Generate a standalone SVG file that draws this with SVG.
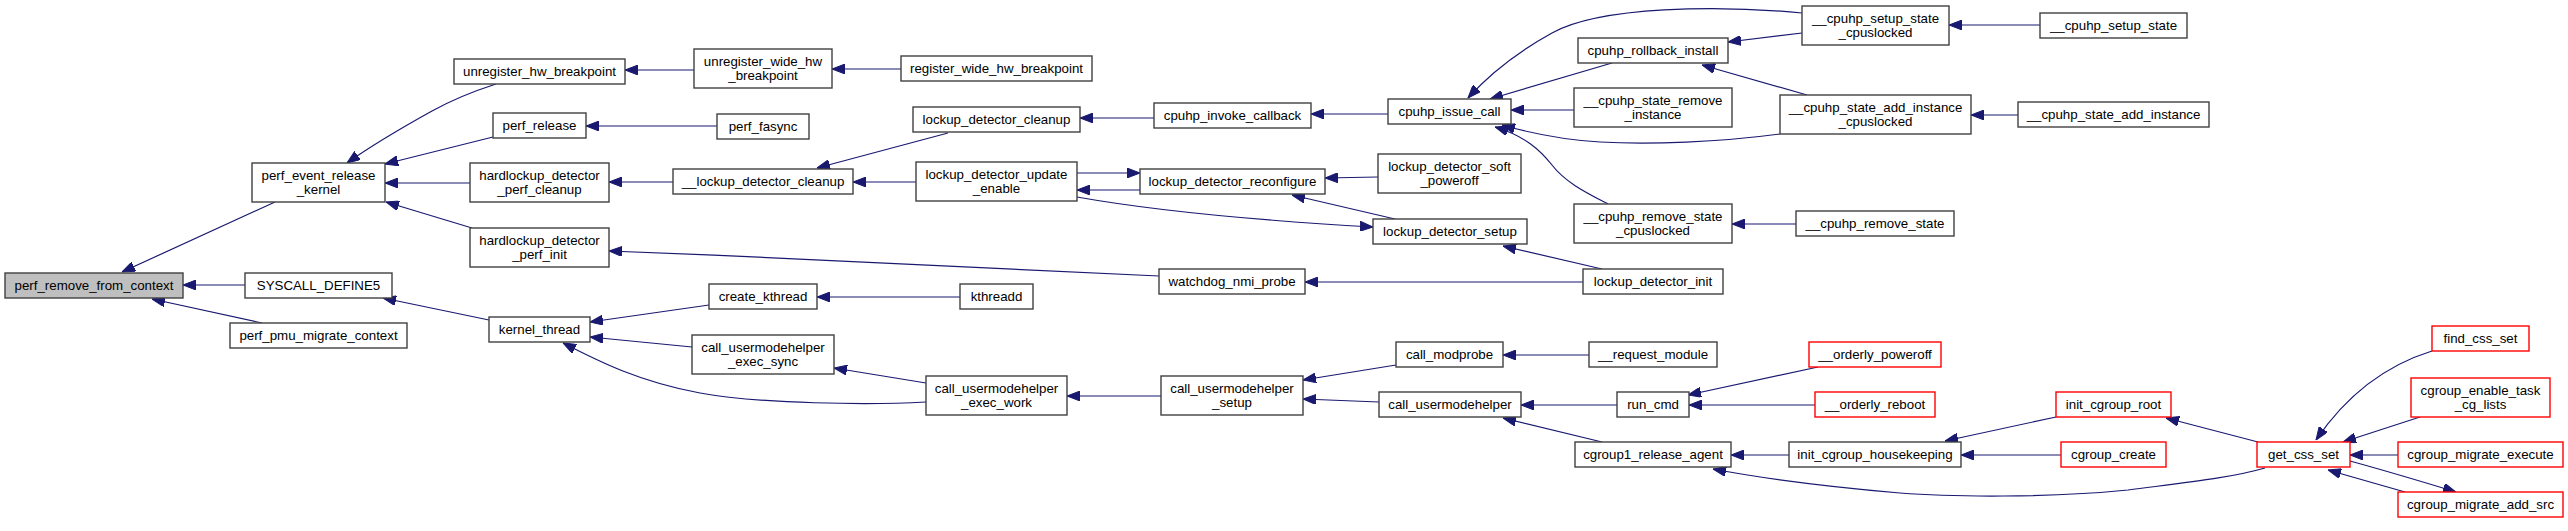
<svg xmlns="http://www.w3.org/2000/svg" width="2568" height="531" viewBox="0 0 2568 531">
<defs>
<style>
.n rect{fill:#fff;stroke:#404040;stroke-width:1.4}
.n.red rect{stroke:#ff0000}
.n.root rect{fill:#bfbfbf}
.n text{font-family:"Liberation Sans",Arial,Helvetica,sans-serif;font-size:13.3px;text-anchor:middle;fill:#000}
#edges path{fill:none;stroke:#191970;stroke-width:1.2;marker-end:url(#ah)}
</style>
<marker id="ah" viewBox="0 0 13 10" refX="13" refY="5" markerWidth="13" markerHeight="10" markerUnits="userSpaceOnUse" orient="auto">
<path d="M0,0 L13,5 L0,10 z" fill="#191970" stroke="#191970" stroke-width="1"/>
</marker>
</defs>
<rect width="2568" height="531" fill="#fff"/>
<g id="edges">
<path d="M275,202 L122,272"/>
<path d="M245,285 L183,285"/>
<path d="M262,323 L152,299"/>
<path d="M496,84 C468,93 452,100 432,111 C405,126 375,143 347,163"/>
<path d="M493,137 L385,164"/>
<path d="M470,183 L385,183"/>
<path d="M472,228 L386,202"/>
<path d="M489,320 L383,298"/>
<path d="M694,70 L625,70"/>
<path d="M901,69 L832,69"/>
<path d="M717,126 L586,126"/>
<path d="M673,182 L609,182"/>
<path d="M1159,276 C1000,268 800,258 609,251"/>
<path d="M709,305 L590,322"/>
<path d="M692,347 L590,337"/>
<path d="M926,402 C870,405 760,404 700,393 C640,382 600,362 563,343"/>
<path d="M960,297 L817,297"/>
<path d="M926,383 L834,368"/>
<path d="M948,133 L817,168"/>
<path d="M916,182 L853,182"/>
<path d="M1154,118 L1080,118"/>
<path d="M1140,190 L1077,190"/>
<path d="M1077,173 L1140,173"/>
<path d="M1077,197 C1150,210 1250,220 1373,227"/>
<path d="M1395,219 L1292,195"/>
<path d="M1378,177 L1325,178"/>
<path d="M1388,114 L1311,114"/>
<path d="M1602,269 L1503,246"/>
<path d="M1583,282 L1305,282"/>
<path d="M1161,396 L1067,396"/>
<path d="M1396,365 L1303,380"/>
<path d="M1379,402 L1303,399"/>
<path d="M1589,355 L1503,355"/>
<path d="M1617,405 L1521,405"/>
<path d="M1602,442 L1503,418"/>
<path d="M1612,63 L1490,99"/>
<path d="M1574,110 L1511,110"/>
<path d="M1802,13 C1720,5 1600,6 1552,33 C1512,55 1486,78 1468,98"/>
<path d="M1780,134 C1720,142 1650,145 1600,142 C1565,140 1530,133 1502,125"/>
<path d="M1608,204 C1585,192 1565,182 1552,165 C1540,150 1525,136 1495,127"/>
<path d="M1802,33 L1728,42"/>
<path d="M1807,95 L1702,65"/>
<path d="M2040,25 L1949,25"/>
<path d="M2018,115 L1971,115"/>
<path d="M1796,224 L1732,224"/>
<path d="M1818,367 L1688,395"/>
<path d="M1815,405 L1689,405"/>
<path d="M1789,455 L1731,455"/>
<path d="M2265,468 C2230,478 2190,482 2128,490 C2050,498 1950,497 1900,493 C1820,486 1760,478 1713,469"/>
<path d="M2056,417 L1945,441"/>
<path d="M2061,455 L1961,455"/>
<path d="M2258,442 L2166,418"/>
<path d="M2432,351 C2390,364 2350,390 2316,440"/>
<path d="M2420,417 L2343,442"/>
<path d="M2398,455 L2350,455"/>
<path d="M2405,492 L2328,470"/>
<path d="M2350,461 C2390,472 2420,481 2456,492"/>
</g>
<g id="n1" class="n root"><rect x="5" y="273" width="178" height="25"/><text x="94" y="289.5">perf_remove_from_context</text></g>
<g id="n2" class="n"><rect x="252" y="163" width="133" height="39"/><text x="318.5" y="179.5">perf_event_release</text><text x="318.5" y="193.5">_kernel</text></g>
<g id="n3" class="n"><rect x="245" y="273" width="147" height="25"/><text x="318.5" y="289.5">SYSCALL_DEFINE5</text></g>
<g id="n4" class="n"><rect x="230" y="323" width="177" height="25"/><text x="318.5" y="339.5">perf_pmu_migrate_context</text></g>
<g id="n5" class="n"><rect x="454" y="59" width="171" height="25"/><text x="539.5" y="75.5">unregister_hw_breakpoint</text></g>
<g id="n6" class="n"><rect x="694" y="49" width="138" height="39"/><text x="763" y="65.5">unregister_wide_hw</text><text x="763" y="79.5">_breakpoint</text></g>
<g id="n7" class="n"><rect x="493" y="113" width="93" height="25"/><text x="539.5" y="129.5">perf_release</text></g>
<g id="n8" class="n"><rect x="717" y="114" width="92" height="25"/><text x="763" y="130.5">perf_fasync</text></g>
<g id="n9" class="n"><rect x="470" y="163" width="139" height="39"/><text x="539.5" y="179.5">hardlockup_detector</text><text x="539.5" y="193.5">_perf_cleanup</text></g>
<g id="n10" class="n"><rect x="673" y="169" width="180" height="25"/><text x="763" y="185.5">__lockup_detector_cleanup</text></g>
<g id="n11" class="n"><rect x="470" y="228" width="139" height="39"/><text x="539.5" y="244.5">hardlockup_detector</text><text x="539.5" y="258.5">_perf_init</text></g>
<g id="n12" class="n"><rect x="709" y="284" width="108" height="25"/><text x="763" y="300.5">create_kthread</text></g>
<g id="n13" class="n"><rect x="489" y="317" width="101" height="25"/><text x="539.5" y="333.5">kernel_thread</text></g>
<g id="n14" class="n"><rect x="692" y="335" width="142" height="39"/><text x="763" y="351.5">call_usermodehelper</text><text x="763" y="365.5">_exec_sync</text></g>
<g id="n15" class="n"><rect x="901" y="56" width="191" height="25"/><text x="996.5" y="72.5">register_wide_hw_breakpoint</text></g>
<g id="n16" class="n"><rect x="913" y="107" width="167" height="25"/><text x="996.5" y="123.5">lockup_detector_cleanup</text></g>
<g id="n17" class="n"><rect x="1154" y="103" width="157" height="25"/><text x="1232.5" y="119.5">cpuhp_invoke_callback</text></g>
<g id="n18" class="n"><rect x="916" y="162" width="161" height="39"/><text x="996.5" y="178.5">lockup_detector_update</text><text x="996.5" y="192.5">_enable</text></g>
<g id="n19" class="n"><rect x="1140" y="169" width="185" height="25"/><text x="1232.5" y="185.5">lockup_detector_reconfigure</text></g>
<g id="n20" class="n"><rect x="1159" y="269" width="146" height="25"/><text x="1232" y="285.5">watchdog_nmi_probe</text></g>
<g id="n21" class="n"><rect x="960" y="284" width="73" height="25"/><text x="996.5" y="300.5">kthreadd</text></g>
<g id="n22" class="n"><rect x="926" y="376" width="141" height="39"/><text x="996.5" y="392.5">call_usermodehelper</text><text x="996.5" y="406.5">_exec_work</text></g>
<g id="n23" class="n"><rect x="1161" y="376" width="142" height="39"/><text x="1232" y="392.5">call_usermodehelper</text><text x="1232" y="406.5">_setup</text></g>
<g id="n24" class="n"><rect x="1388" y="99" width="123" height="25"/><text x="1449.5" y="115.5">cpuhp_issue_call</text></g>
<g id="n25" class="n"><rect x="1378" y="154" width="143" height="39"/><text x="1449.5" y="170.5">lockup_detector_soft</text><text x="1449.5" y="184.5">_poweroff</text></g>
<g id="n26" class="n"><rect x="1373" y="219" width="154" height="25"/><text x="1450" y="235.5">lockup_detector_setup</text></g>
<g id="n27" class="n"><rect x="1396" y="342" width="107" height="25"/><text x="1449.5" y="358.5">call_modprobe</text></g>
<g id="n28" class="n"><rect x="1379" y="392" width="142" height="25"/><text x="1450" y="408.5">call_usermodehelper</text></g>
<g id="n29" class="n"><rect x="1578" y="38" width="150" height="25"/><text x="1653" y="54.5">cpuhp_rollback_install</text></g>
<g id="n30" class="n"><rect x="1574" y="88" width="158" height="39"/><text x="1653" y="104.5">__cpuhp_state_remove</text><text x="1653" y="118.5">_instance</text></g>
<g id="n31" class="n"><rect x="1574" y="204" width="158" height="39"/><text x="1653" y="220.5">__cpuhp_remove_state</text><text x="1653" y="234.5">_cpuslocked</text></g>
<g id="n32" class="n"><rect x="1583" y="269" width="140" height="25"/><text x="1653" y="285.5">lockup_detector_init</text></g>
<g id="n33" class="n"><rect x="1589" y="342" width="128" height="25"/><text x="1653" y="358.5">__request_module</text></g>
<g id="n34" class="n"><rect x="1617" y="392" width="72" height="25"/><text x="1653" y="408.5">run_cmd</text></g>
<g id="n35" class="n"><rect x="1575" y="442" width="156" height="25"/><text x="1653" y="458.5">cgroup1_release_agent</text></g>
<g id="n36" class="n"><rect x="1802" y="6" width="147" height="39"/><text x="1875.5" y="22.5">__cpuhp_setup_state</text><text x="1875.5" y="36.5">_cpuslocked</text></g>
<g id="n37" class="n"><rect x="1780" y="95" width="191" height="39"/><text x="1875.5" y="111.5">__cpuhp_state_add_instance</text><text x="1875.5" y="125.5">_cpuslocked</text></g>
<g id="n38" class="n"><rect x="2040" y="13" width="147" height="25"/><text x="2113.5" y="29.5">__cpuhp_setup_state</text></g>
<g id="n39" class="n"><rect x="2018" y="102" width="191" height="25"/><text x="2113.5" y="118.5">__cpuhp_state_add_instance</text></g>
<g id="n40" class="n"><rect x="1796" y="211" width="158" height="25"/><text x="1875" y="227.5">__cpuhp_remove_state</text></g>
<g id="n41" class="n red"><rect x="1809" y="342" width="132" height="25"/><text x="1875" y="358.5">__orderly_poweroff</text></g>
<g id="n42" class="n red"><rect x="1815" y="392" width="120" height="25"/><text x="1875" y="408.5">__orderly_reboot</text></g>
<g id="n43" class="n"><rect x="1789" y="442" width="172" height="25"/><text x="1875" y="458.5">init_cgroup_housekeeping</text></g>
<g id="n44" class="n red"><rect x="2056" y="392" width="115" height="25"/><text x="2113.5" y="408.5">init_cgroup_root</text></g>
<g id="n45" class="n red"><rect x="2061" y="442" width="105" height="25"/><text x="2113.5" y="458.5">cgroup_create</text></g>
<g id="n46" class="n red"><rect x="2257" y="442" width="93" height="25"/><text x="2303.5" y="458.5">get_css_set</text></g>
<g id="n47" class="n red"><rect x="2432" y="326" width="97" height="25"/><text x="2480.5" y="342.5">find_css_set</text></g>
<g id="n48" class="n red"><rect x="2411" y="378" width="139" height="39"/><text x="2480.5" y="394.5">cgroup_enable_task</text><text x="2480.5" y="408.5">_cg_lists</text></g>
<g id="n49" class="n red"><rect x="2398" y="442" width="165" height="25"/><text x="2480.5" y="458.5">cgroup_migrate_execute</text></g>
<g id="n50" class="n red"><rect x="2398" y="492" width="165" height="25"/><text x="2480.5" y="508.5">cgroup_migrate_add_src</text></g>
</svg>
